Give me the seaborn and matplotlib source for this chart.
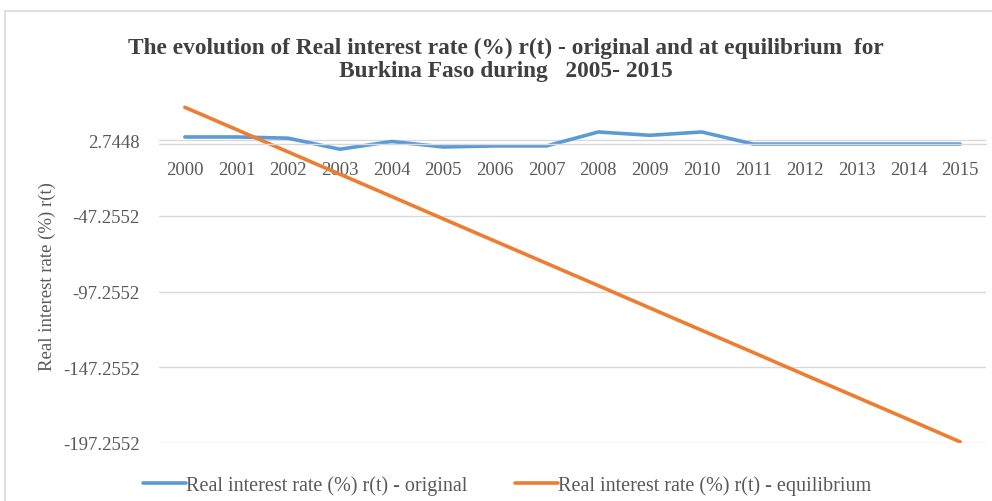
import matplotlib
matplotlib.use("Agg")
import matplotlib.pyplot as plt
import seaborn as sns
import pandas as pd
from matplotlib.patches import Rectangle

years = [2000, 2001, 2002, 2003, 2004, 2005, 2006, 2007,
         2008, 2009, 2010, 2011, 2012, 2013, 2014, 2015]
original = [4.9, 4.9, 4.1, -3.2, 1.9, -1.7, -1.0, -1.0,
            8.2, 6.0, 8.2, 0.2, 0.2, 0.2, 0.2, 0.2]
equilibrium = [24.5, 9.8, -5.0, -19.7, -34.4, -49.2, -63.9, -78.6,
               -93.3, -108.1, -122.8, -137.5, -152.3, -167.0, -181.7, -196.5]
series_names = ["Real interest rate (%) r(t) - original",
                "Real interest rate (%) r(t) - equilibrium"]
yticks = [2.7448, -47.2552, -97.2552, -147.2552, -197.2552]
ytick_labels = ["2.7448", "-47.2552", "-97.2552", "-147.2552", "-197.2552"]

df = pd.DataFrame({
    "year": years * 2,
    "value": original + equilibrium,
    "series": [series_names[0]] * len(years) + [series_names[1]] * len(years),
})

sns.set_theme(style="white")
plt.rcParams["font.family"] = ["Liberation Serif", "DejaVu Serif"]

fig = plt.figure(figsize=(9.92, 5.02), dpi=100)
ax = fig.add_axes([159/992, 1-444/502, 827/992, 341/502])

sns.lineplot(data=df, x="year", y="value", hue="series",
             palette=["#5B9BD5", "#ED7D31"], linewidth=2.6, ax=ax,
             legend=True)

ax.set_xlim(1999.5, 2015.5)
ax.set_ylim(-197.2552, 28)
ax.set_yticks(yticks)
ax.set_yticklabels(ytick_labels)
ax.set_xticks(years)
ax.set_xticklabels([str(y) for y in years])
ax.yaxis.grid(True, color="#D9D9D9", linewidth=1)
ax.set_axisbelow(True)
for s in ["top", "right", "left"]:
    ax.spines[s].set_visible(False)
ax.spines["bottom"].set_position(("data", 0))
ax.spines["bottom"].set_color("#D9D9D9")
ax.spines["bottom"].set_linewidth(1)
ax.tick_params(axis="x", length=0, pad=12, labelsize=13.5, colors="#595959")
ax.tick_params(axis="y", length=0, pad=14, labelsize=13.5, colors="#595959")
ax.set_xlabel("")
ax.set_ylabel("Real interest rate (%) r(t)", fontsize=13.5, color="#595959")
ax.yaxis.set_label_coords(-0.124, 0.49)

leg = ax.legend(loc="center", bbox_to_anchor=(507/992, 1-486/502),
                bbox_transform=fig.transFigure, ncol=2, frameon=False,
                fontsize=14.5, handlelength=2.1, handletextpad=0.0,
                columnspacing=2.4, labelcolor="#595959",
                borderpad=0, borderaxespad=0)

fig.text(506/992, 1-60/502,
         "The evolution of Real interest rate (%) r(t) - original and at equilibrium  for\n"
         "Burkina Faso during   2005- 2015",
         ha="center", va="center", fontsize=16.8, fontweight="bold",
         color="#404040", linespacing=1.1)

fig.patches.append(Rectangle((5/992, -0.05), 1.2, 0.05 + 1-12/502,
                             transform=fig.transFigure, fill=False,
                             edgecolor="#D9D9D9", linewidth=1.2))

fig.savefig("out.png", dpi=100)
